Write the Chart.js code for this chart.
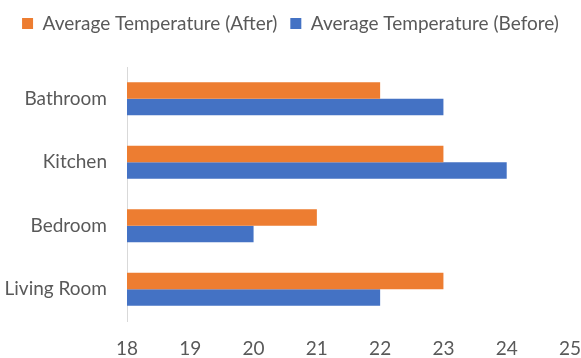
<!DOCTYPE html>
<html>
<head>
<meta charset="utf-8">
<script src="https://cdn.jsdelivr.net/npm/chart.js@4"></script>
<style>
  html, body { margin: 0; padding: 0; background: #fff; }
  #wrap { width: 581px; height: 358px; }
</style>
</head>
<body>
<div id="wrap"><canvas id="rooms"></canvas></div>
<script>
const rooms = ['Bathroom', 'Kitchen', 'Bedroom', 'Living Room'];
const tempAfter = [22, 23, 21, 23];
const tempBefore = [23, 24, 20, 22];
const xTicks = [18, 19, 20, 21, 22, 23, 24, 25];

const textColor = '#595959';
const fontFamily = 'Lato, "Open Sans", sans-serif';

// push the plot area down under the legend
const legendGap = {
  id: 'legendGap',
  beforeInit(chart) {
    const fit = chart.legend.fit;
    chart.legend.fit = function () {
      fit.bind(chart.legend)();
      this.height += 24;
    };
  }
};

const config = {
  type: 'bar',
  data: {
    labels: rooms,
    datasets: [{
      label: 'Average Temperature (After)',
      data: tempAfter,
      backgroundColor: '#ED7D31',
      categoryPercentage: 0.523,
      barPercentage: 1.0
    }, {
      label: 'Average Temperature (Before)',
      data: tempBefore,
      backgroundColor: '#4472C4',
      categoryPercentage: 0.523,
      barPercentage: 1.0
    }]
  },
  options: {
    indexAxis: 'y',
    responsive: true,
    maintainAspectRatio: false,
    animation: false,
    layout: { padding: { left: 0, right: 0, top: 1, bottom: 0 } },
    plugins: {
      tooltip: { enabled: false },
      legend: {
        position: 'top',
        labels: {
          color: textColor,
          boxWidth: 11,
          boxHeight: 11,
          padding: 13,
          font: { family: fontFamily, size: 19 }
        }
      }
    },
    scales: {
      x: {
        min: xTicks[0],
        max: xTicks[xTicks.length - 1],
        afterBuildTicks(axis) {
          axis.ticks = xTicks.map(v => ({ value: v }));
        },
        afterFit(axis) {
          axis.height = 37;
          axis.paddingRight = 11;
        },
        grid: { display: false, drawTicks: false },
        border: { display: false },
        ticks: {
          color: textColor,
          padding: 16,
          font: { family: fontFamily, size: 19 }
        }
      },
      y: {
        afterFit(axis) { axis.width = 127; },
        grid: { display: false, drawTicks: false },
        border: { display: true, color: '#D9D9D9', width: 1 },
        ticks: {
          color: textColor,
          padding: 20,
          font: { family: fontFamily, size: 19 }
        }
      }
    }
  },
  plugins: [legendGap]
};

const roomChart = new Chart(document.getElementById('rooms'), config);
</script>
</body>
</html>
